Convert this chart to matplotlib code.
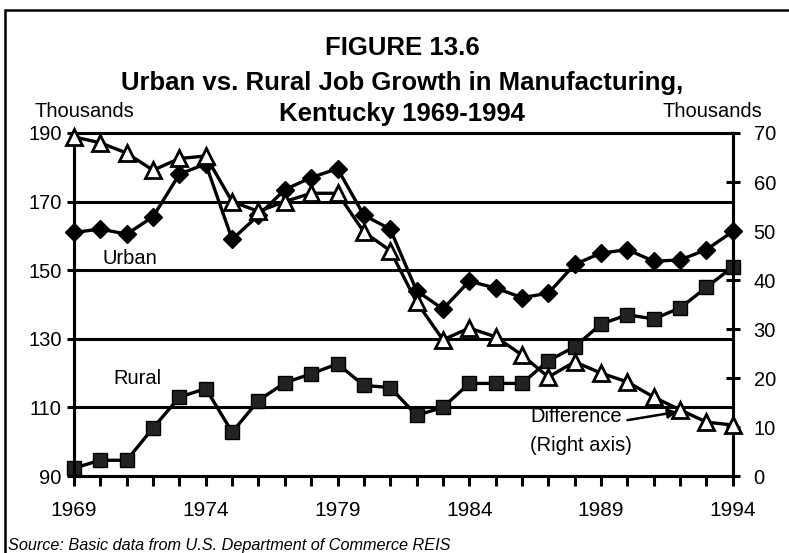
import matplotlib
matplotlib.use("Agg")
import matplotlib.pyplot as plt
from matplotlib.patches import Rectangle

plt.rcParams['font.family'] = ['Liberation Sans', 'DejaVu Sans']

# Datos (miles de empleos)
years = list(range(1969, 1995))
urban = [161, 162, 160.5, 165.6, 178, 181, 159, 166, 173.5, 177, 179.6, 166, 162,
         144, 138.7, 146.8, 144.8, 142, 143.3, 151.7, 155, 156, 152.6, 153, 156, 161.3]
rural = [92.3, 94.6, 94.6, 104, 113, 115.5, 102.8, 112, 117.2, 119.8, 122.7, 116.4, 115.8,
         107.7, 110, 117, 117, 117, 123.6, 127.7, 134.3, 137, 135.8, 139, 145, 151]
difference = [69.2, 68, 65.9, 62.4, 64.8, 65.3, 56, 54, 56, 57.7, 57.7, 49.8, 46,
              35.5, 27.8, 30.2, 28.4, 24.7, 20.2, 23.3, 21, 19.2, 16.1, 13.5, 11, 10.4]
year_labels = [1969, 1974, 1979, 1984, 1989, 1994]
left_ticks = [90, 110, 130, 150, 170, 190]
right_ticks = [0, 10, 20, 30, 40, 50, 60, 70]

fig = plt.figure(figsize=(7.89, 5.53), dpi=100)
ax = fig.add_axes([0.0938, 0.1392, 0.835, 0.6203])
ax2 = ax.twinx()

# Marco exterior
fig.patches.append(Rectangle((5 / 789, -0.05), 1.1, 1 - 10 / 553 + 0.05, transform=fig.transFigure,
                             fill=False, edgecolor="black", linewidth=1.8))

lw = 2.4
ax.plot(years, urban, '-D', color="black", markersize=9.5, linewidth=lw, clip_on=False, zorder=3)
ax.plot(years, rural, '-s', color="black", markerfacecolor="#222222", markersize=10.5,
        linewidth=lw, clip_on=False, zorder=3)
ax2.plot(years, difference, '-^', color="black", markerfacecolor="white", markersize=11,
         markeredgewidth=2, linewidth=lw, clip_on=False, zorder=4)

ax.set_xlim(1969, 1994)
ax.set_ylim(90, 190)
ax2.set_ylim(0, 70)

for y in [110, 130, 150, 170]:
    ax.axhline(y, color="black", linewidth=2.2, zorder=1)

for s in ax.spines.values():
    s.set_linewidth(2.2)
for s in ax2.spines.values():
    s.set_linewidth(2.2)

ax.set_xticks(years, minor=True)
ax.set_xticks(year_labels)
ax.set_xticklabels([str(y) for y in year_labels], fontsize=15)
ax.tick_params(axis='x', which='both', direction='out', length=7, width=2.2, pad=11)
ax.set_yticks(left_ticks)
ax.set_yticklabels([str(v) for v in left_ticks], fontsize=14.5)
ax.tick_params(axis='y', direction='inout', length=10, width=2.2, pad=4)
ax2.set_yticks(right_ticks)
ax2.set_yticklabels([str(v) for v in right_ticks], fontsize=14.5)
ax2.tick_params(axis='y', direction='inout', length=10, width=2.2, pad=10)

# Etiquetas dentro del gráfico
ax.text(1970.1, 153.5, "Urban", fontsize=14.5, va="center")
ax.text(1970.5, 118.5, "Rural", fontsize=14.5, va="center")
ax2.text(1986.3, 12.2, "Difference", fontsize=14.5, va="center")
ax2.text(1986.3, 6.3, "(Right axis)", fontsize=14.5, va="center")
ax2.annotate("", xy=(1991.9, 13.1), xytext=(1990.0, 11.4),
             arrowprops=dict(arrowstyle="-|>", color="black", lw=1.8, mutation_scale=14,
                             shrinkA=0, shrinkB=0))

# Títulos
fig.text(0.51, 0.913, "FIGURE 13.6", ha="center", va="center", fontsize=18.5, fontweight="bold")
fig.text(0.51, 0.850, "Urban vs. Rural Job Growth in Manufacturing,", ha="center", va="center",
         fontsize=18.5, fontweight="bold")
fig.text(0.51, 0.793, "Kentucky 1969-1994", ha="center", va="center", fontsize=18.5,
         fontweight="bold")
fig.text(0.044, 0.799, "Thousands", fontsize=14.5, va="center")
fig.text(0.840, 0.799, "Thousands", fontsize=14.5, va="center")
fig.text(0.010, 0.014, "Source: Basic data from U.S. Department of Commerce REIS", fontsize=11.7,
         style="italic", va="center")

fig.savefig("out.png", dpi=100)
